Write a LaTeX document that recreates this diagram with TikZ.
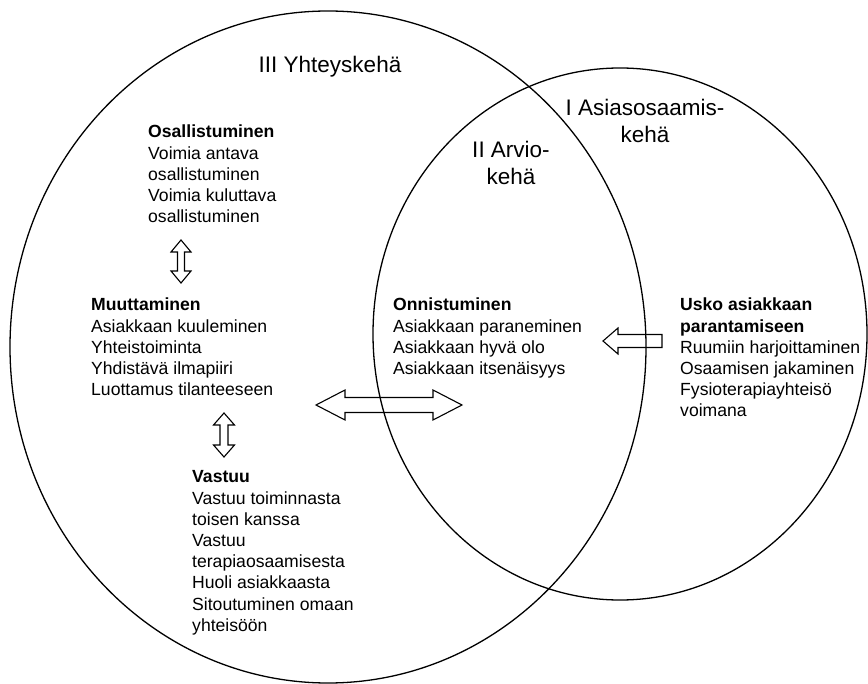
\documentclass[tikz,border=0pt]{standalone}
\usepackage{fontspec}
\setmainfont{Liberation Sans}
\newcommand{\lblock}[1]{\begin{tabular}[t]{@{}l@{}}#1\end{tabular}}
\newcommand{\cblock}[1]{\begin{tabular}[t]{@{}c@{}}#1\end{tabular}}
\tikzset{
  ring/.style={draw=black, line width=1.3pt},
  blockarrow/.style={draw=black, line width=1.1pt, line join=miter},
  body/.style={inner sep=0pt, anchor=base west, font=\fontsize{17.6}{21.2}\selectfont},
  title/.style={inner sep=0pt, anchor=base, font=\fontsize{22.5}{27}\selectfont},
}
\begin{document}
\begin{tikzpicture}[x=1pt, y=-1pt]
\useasboundingbox (0,0) rectangle (868,684);

% circles
\draw[ring] (328,347) ellipse [x radius=318pt, y radius=336pt];
\draw[ring] (620,334) ellipse [x radius=247pt, y radius=266pt];

% titles
\node[title] (t3) at (330,72.5) {III Yhteyskehä};
\node[title] (t2) at (511,158) {\cblock{II Arvio-\\kehä}};
\node[title] (t1) at (645,116) {\cblock{I Asiasosaamis-\\kehä}};

% text blocks
\node[body] (osall) at (148,138) {\lblock{\textbf{Osallistuminen}\\Voimia antava\\osallistuminen\\Voimia kuluttava\\osallistuminen}};
\node[body] (muutt) at (91,311) {\lblock{\textbf{Muuttaminen}\\Asiakkaan kuuleminen\\Yhteistoiminta\\Yhdistävä ilmapiiri\\Luottamus tilanteeseen}};
\node[body] (vastuu) at (192,483) {\lblock{\textbf{Vastuu}\\Vastuu toiminnasta\\toisen kanssa\\Vastuu\\terapiaosaamisesta\\Huoli asiakkaasta\\Sitoutuminen omaan\\yhteisöön}};
\node[body] (onnis) at (393,311) {\lblock{\textbf{Onnistuminen}\\Asiakkaan paraneminen\\Asiakkaan hyvä olo\\Asiakkaan itsenäisyys}};
\node[body] (usko) at (680,311) {\lblock{\textbf{Usko asiakkaan}\\\textbf{parantamiseen}\\Ruumiin harjoittaminen\\Osaamisen jakaminen\\Fysioterapiayhteisö\\voimana}};

% block arrows
\draw[blockarrow] (181,240) -- (191,252) -- (184.5,252) -- (184.5,271) -- (191,271) -- (181,283)
  -- (171,271) -- (177.5,271) -- (177.5,252) -- (171,252) -- cycle;
\draw[blockarrow] (224,413) -- (234.5,425) -- (228,425) -- (228,445) -- (234.5,445) -- (224,457)
  -- (213.5,445) -- (220,445) -- (220,425) -- (213.5,425) -- cycle;
\draw[blockarrow] (316,405) -- (345,390) -- (345,397.5) -- (433,397.5) -- (433,390) -- (462,405)
  -- (433,420) -- (433,412.5) -- (345,412.5) -- (345,420) -- cycle;
\draw[blockarrow] (603,341) -- (618,328) -- (618,334.5) -- (662,334.5) -- (662,347.5)
  -- (618,347.5) -- (618,354) -- cycle;
\end{tikzpicture}
\end{document}
